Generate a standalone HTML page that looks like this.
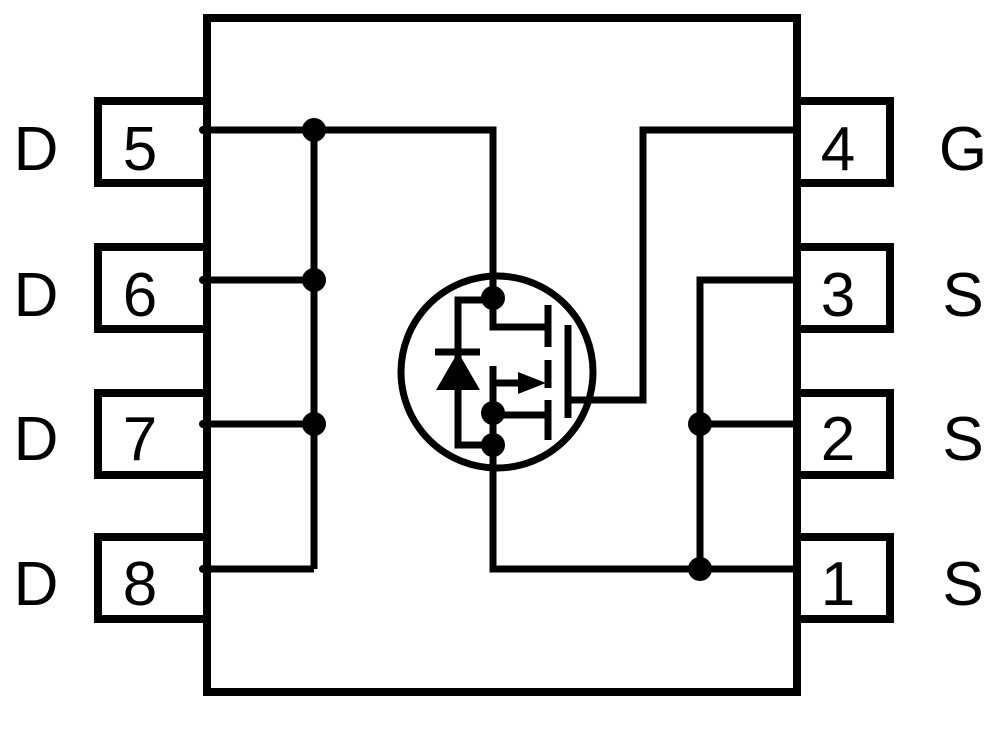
<!DOCTYPE html>
<html><head><style>body{margin:0;background:#fff}</style></head><body>
<svg width="1000" height="729" viewBox="0 0 1000 729" xmlns="http://www.w3.org/2000/svg">
<g fill="none" stroke="#000" stroke-width="8">
<rect x="207" y="18" width="590" height="674"/>
<path d="M207 101H98V183H207M207 247H98V329H207M207 393H98V475H207M207 537H98V619H207"/>
<path d="M797 101H890V183H797M797 247H890V329H797M797 393H890V475H797M797 537H890V619H797"/>
</g>
<g fill="none" stroke="#000" stroke-width="7">
<path d="M203 130H493V300M203 280H314M203 424H314M203 569H314M314 130V569"/>
<path d="M797 130H643V400H568M797 280H700V569M700 424H797M493 445V569H797"/>
<circle cx="497" cy="372" r="96"/>
<path d="M493 300V327H548M548 305V347M548 360V388M548 400V440M568 325V418"/>
<path d="M493 366V415H548M493 383H520"/>
<path d="M493 300H458V445H493M493 415V445"/>
<path d="M435 352H480"/>
</g>
<g fill="#000">
<path d="M458 352L436 390H480Z"/>
<circle cx="314" cy="130" r="12"/><circle cx="314" cy="280" r="12"/><circle cx="314" cy="424" r="12"/>
<circle cx="700" cy="424" r="12"/><circle cx="700" cy="569" r="12"/>
<circle cx="493" cy="298" r="12"/><circle cx="493" cy="413" r="12"/><circle cx="493" cy="445" r="12"/>
<circle cx="203" cy="130" r="4"/><circle cx="203" cy="280" r="4"/><circle cx="203" cy="424" r="4"/><circle cx="203" cy="569" r="4"/>
<path d="M518 372L546 383L518 394Z"/>
</g>
<g font-family="Liberation Sans, sans-serif" font-size="62" fill="#000" text-anchor="middle">
<text x="36" y="170">D</text><text x="36" y="316">D</text><text x="36" y="460">D</text><text x="36" y="605">D</text>
<text x="140" y="170">5</text><text x="140" y="316">6</text><text x="140" y="460">7</text><text x="140" y="605">8</text>
<text x="838" y="170">4</text><text x="838" y="316">3</text><text x="838" y="460">2</text><text x="838" y="605">1</text>
<text x="963" y="170">G</text><text x="963" y="316">S</text><text x="963" y="460">S</text><text x="963" y="605">S</text>
</g>
</svg>
</body></html>
